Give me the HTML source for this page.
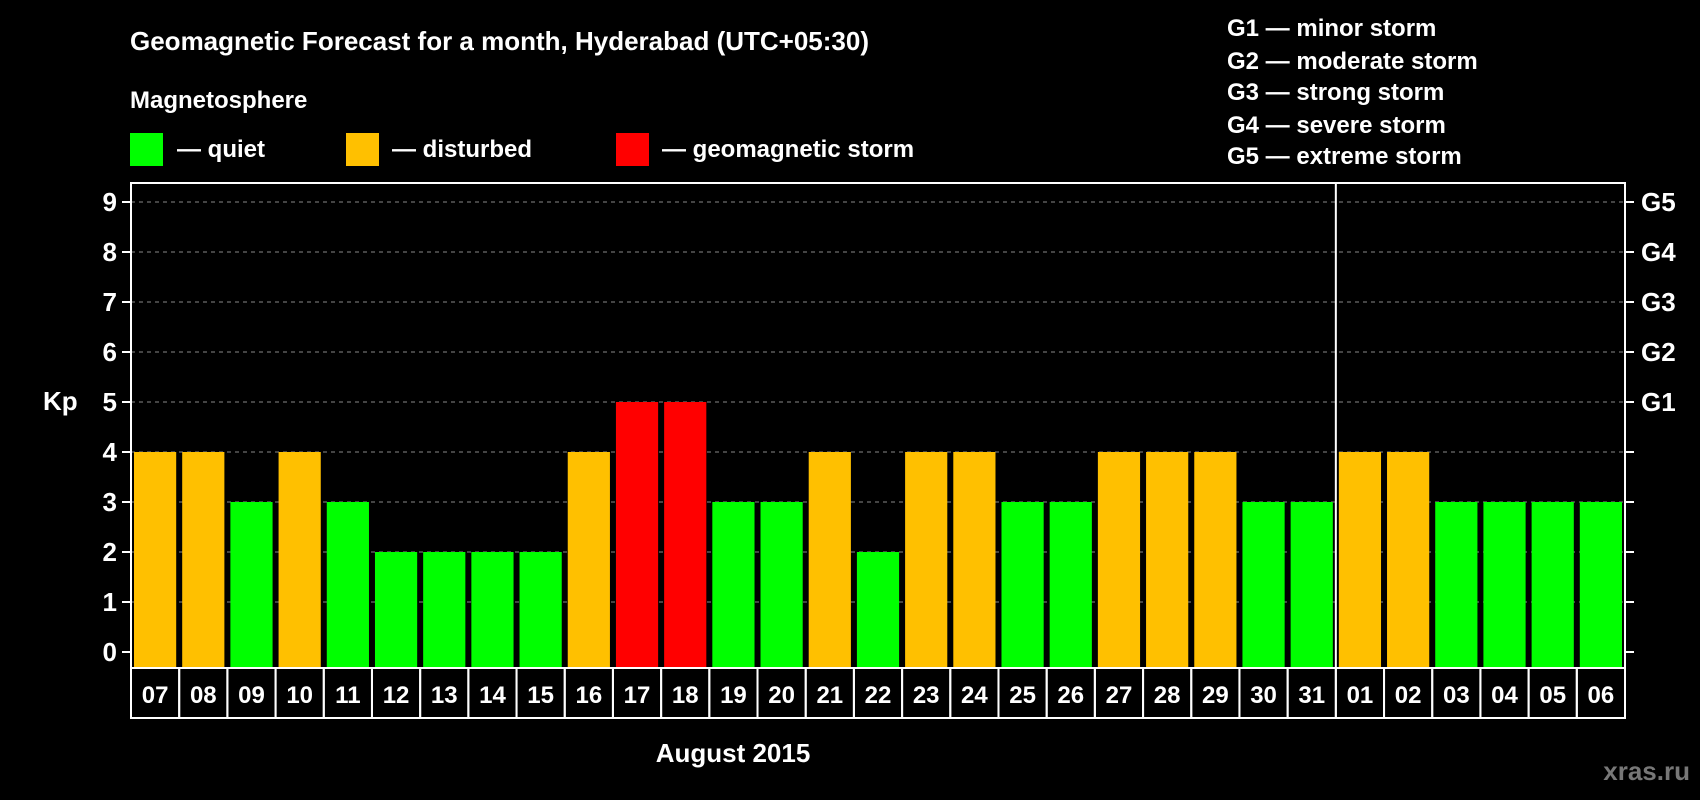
<!DOCTYPE html>
<html><head><meta charset="utf-8"><style>
body{margin:0;background:#000;}
svg{display:block;font-family:"Liberation Sans",sans-serif;font-weight:bold;}
</style></head><body>
<svg id="chart" width="1700" height="800" viewBox="0 0 1700 800">
<rect width="1700" height="800" fill="#000"/>
<text x="130" y="50" fill="#fff" font-size="26">Geomagnetic Forecast for a month, Hyderabad (UTC+05:30)</text>
<text x="130" y="108" fill="#fff" font-size="24">Magnetosphere</text>
<g><rect x="130" y="133" width="33" height="33" fill="#00ff00"/><text x="177" y="157" fill="#fff" font-size="24">— quiet</text></g>
<g><rect x="346" y="133" width="33" height="33" fill="#ffc000"/><text x="392" y="157" fill="#fff" font-size="24">— disturbed</text></g>
<g><rect x="616" y="133" width="33" height="33" fill="#ff0000"/><text x="662" y="157" fill="#fff" font-size="24">— geomagnetic storm</text></g>
<g fill="#fff" font-size="24">
<text x="1227" y="36">G1 — minor storm</text>
<text x="1227" y="69">G2 — moderate storm</text>
<text x="1227" y="100">G3 — strong storm</text>
<text x="1227" y="133">G4 — severe storm</text>
<text x="1227" y="164">G5 — extreme storm</text>
</g>
<text x="43" y="410" fill="#fff" font-size="26">Kp</text>
<text x="733" y="762" fill="#fff" font-size="26" text-anchor="middle">August 2015</text>
<text x="1690" y="780" fill="#777" font-size="26" text-anchor="end">xras.ru</text>
<g id="plot"></g>
</svg>
<script>
const days=["07","08","09","10","11","12","13","14","15","16","17","18","19","20","21","22","23","24","25","26","27","28","29","30","31","01","02","03","04","05","06"];
const kp=[4,4,3,4,3,2,2,2,2,4,5,5,3,3,4,2,4,4,3,3,4,4,4,3,3,4,4,3,3,3,3];
const yTicks=[0,1,2,3,4,5,6,7,8,9];
const gLabels=["G1","G2","G3","G4","G5"];
const NS="http://www.w3.org/2000/svg";
const g=document.getElementById('plot');
const L=131,R=1625,T=183,B=668,y0=652,unit=50;
const cw=(R-L)/days.length;
const y=v=>y0-v*unit;
const x=i=>L+i*cw;
function mk(t,a){const e=document.createElementNS(NS,t);for(const k in a)e.setAttribute(k,a[k]);g.appendChild(e);return e;}
yTicks.forEach(v=>{
 if(v>0){const l=mk('line',{x1:L,x2:R,y1:y(v),y2:y(v),stroke:'#888','stroke-dasharray':'4,4','stroke-width':1});
 
 }
 mk('line',{x1:L-9,x2:L,y1:y(v),y2:y(v),stroke:'#fff','stroke-width':2});
 mk('line',{x1:R,x2:R+9,y1:y(v),y2:y(v),stroke:'#fff','stroke-width':2});
 const t=mk('text',{x:L-14,y:y(v)+9,fill:'#fff','font-size':26,'text-anchor':'end'});t.textContent=v;
 
 
});
gLabels.forEach((s,i)=>{const t=mk('text',{x:R+16,y:y(5+i)+9,fill:'#fff','font-size':26});t.textContent=s;
 
 });
kp.forEach((v,i)=>{
 const c=v>=5?'#ff0000':(v>=4?'#ffc000':'#00ff00');
 const r=mk('rect',{x:x(i)+3,y:y(v),width:cw-6,height:B-y(v),fill:c});
 
 
 mk('rect',{x:x(i),y:B,width:cw,height:50,fill:'none',stroke:'#fff','stroke-width':2});
 const t=mk('text',{x:x(i)+cw/2,y:B+35,fill:'#fff','font-size':24,'text-anchor':'middle'});t.textContent=days[i];
 
 
});
const sep=days.indexOf("01");
mk('line',{x1:x(sep),x2:x(sep),y1:T,y2:B,stroke:'#fff','stroke-width':2});
const f=mk('rect',{x:L,y:T,width:R-L,height:B-T,fill:'none',stroke:'#fff','stroke-width':2});


</script>
</body></html>
